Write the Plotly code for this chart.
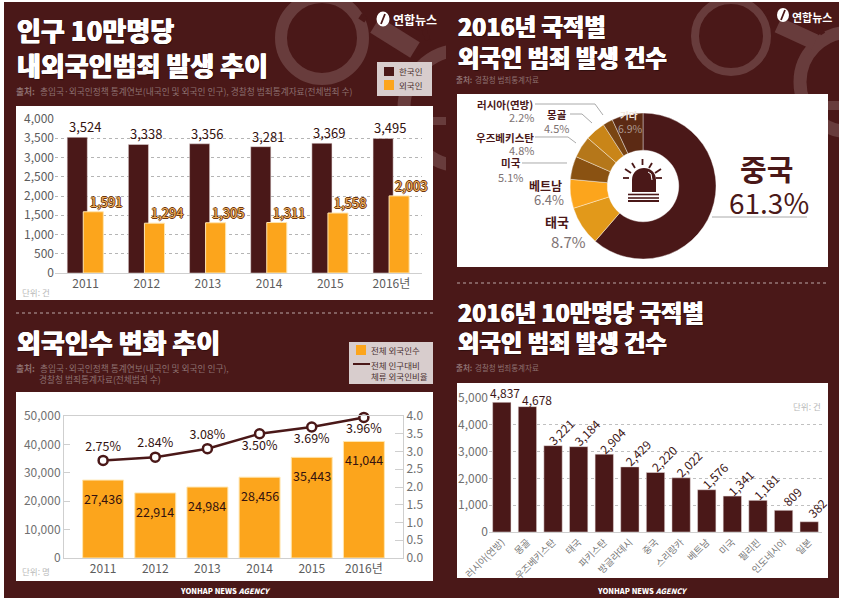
import plotly.graph_objects as go

# chart 1 - crime rate per 100k
years = ['2011', '2012', '2013', '2014', '2015', '2016년']
korean = [3524, 3338, 3356, 3281, 3369, 3495]
foreign = [1591, 1294, 1305, 1311, 1558, 2003]

# chart 2 - foreigners
foreign_pop = [27436, 22914, 24984, 28456, 35443, 41044]
foreign_pct = [2.75, 2.84, 3.08, 3.50, 3.69, 3.96]

# chart 3 - share by nationality
share_names = ['중국', '태국', '베트남', '미국', '우즈베키스탄', '몽골', '러시아(연방)', '기타']
share_vals = [61.3, 8.7, 6.4, 5.1, 4.8, 4.5, 2.2, 6.9]

# chart 4 - per 100k by nationality
nations = ['러시아(연방)', '몽골', '우즈베키스탄', '태국', '파키스탄', '방글라데시', '중국',
           '스리랑카', '베트남', '미국', '필리핀', '인도네시아', '일본']
nation_vals = [4837, 4678, 3221, 3184, 2904, 2429, 2220, 2022, 1576, 1341, 1181, 809, 382]

W, H = 842, 602
DARK = '#4a1818'
ORANGE = '#fca51c'
KR = 'Noto Sans CJK KR'
MUTED = '#8d7070'
CUFF = '#683c3c'


def px(x):
    return x / W


def py(y):
    return 1 - y / H


def dom_x(a, b):
    return [px(a), px(b)]


def dom_y(top, bottom):
    return [py(bottom), py(top)]


annos = []
shapes = []


def note(text, x, y, size, color, anchor='left', weight=400, **kw):
    # annotations carry about 2px of padding, take it back
    dx = {'left': -2, 'right': 2, 'center': 0}[anchor]
    annos.append(dict(text=text, x=px(x + dx), y=py(y), xref='paper', yref='paper', showarrow=False,
                      xanchor=anchor, yanchor='middle',
                      font=dict(family=KR, size=size, color=color, weight=weight, **kw)))


def title(text, x, y, size):
    note(text, x, y, size, 'white', weight=900, shadow='0.4px 0 white,-0.4px 0 white,1px 1px 1px rgba(0,0,0,0.4)')


def rect(x0, y0, x1, y1, color, line=None):
    shapes.append(dict(type='rect', xref='paper', yref='paper', x0=px(x0), x1=px(x1), y0=py(y0), y1=py(y1),
                       fillcolor=color, line=dict(width=0 if line is None else 1, color=line), layer='below'))


def path(points, color='#aaaaaa', width=1, layer='below'):
    d = 'M ' + ' L '.join(f'{px(a):.5f},{py(b):.5f}' for a, b in points)
    shapes.append(dict(type='path', xref='paper', yref='paper', path=d, line=dict(color=color, width=width),
                       layer=layer))


def ring(cx, cy, r, width):
    shapes.append(dict(type='circle', xref='paper', yref='paper', x0=px(cx - r), x1=px(cx + r),
                       y0=py(cy + r), y1=py(cy - r), line=dict(color=CUFF, width=width),
                       fillcolor='rgba(0,0,0,0)', layer='below'))


# background panel, left half first
rect(4, 2, 446, 598, DARK)

# handcuff decoration behind the titles
ring(322, 38, 41, 12)
ring(462, 108, 58, 13)
path([(375, 25), (415, 50)], CUFF, 18)
path([(360, 16), (366, 20)], DARK, 6)
path([(424, 30), (428, 40)], DARK, 5)
rect(433, 117, 446, 125, CUFF)

# right half hides whatever the left cuff pushes over
rect(446, 2, 839, 598, DARK)
ring(731, 36, 36, 8)
ring(850, 82, 50, 13)
path([(778, 25), (815, 42)], CUFF, 16)
path([(765, 14), (771, 11)], DARK, 6)
path([(818, 26), (823, 34)], DARK, 5)
rect(828, 101, 839, 110, CUFF)
rect(839, 0, 842, 602, 'white')
rect(0, 0, 842, 2, 'white')

# white cards
rect(16, 106, 433, 300, 'white')
rect(16, 392, 433, 581, 'white')
rect(457, 94, 828, 267, 'white')
rect(457, 383, 828, 578, 'white')

# dotted separators
path([(16, 313), (433, 313)], '#b9a5a5', 1.2)
shapes[-1]['line']['dash'] = 'dot'
path([(457, 283), (828, 283)], '#b9a5a5', 1.2)
shapes[-1]['line']['dash'] = 'dot'

fig = go.Figure()

# ---- chart 1 ----
fig.add_trace(go.Bar(x=years, y=korean, width=0.328, offset=-0.30, marker=dict(color=DARK, line=dict(color='#e8dcdc', width=0.5)),
                     xaxis='x', yaxis='y', showlegend=False))
fig.add_trace(go.Bar(x=years, y=foreign, width=0.328, offset=-0.038, marker=dict(color=ORANGE, line=dict(color='#ffe6b0', width=1)),
                     xaxis='x', yaxis='y', showlegend=False))
outline = '#6b3612'
halo = f'-1px 0 {outline},1px 0 {outline},0 -1px {outline},0 1px {outline}'
# category axes take the position number in annotations, not a year-like string
for i, (k, f) in enumerate(zip(korean, foreign)):
    annos.append(dict(text=f'{k:,}', x=i, y=k, xref='x', yref='y', showarrow=False, xshift=-1, yshift=-1, yanchor='bottom',
                      font=dict(family=KR, size=13, color='#33120f')))
    annos.append(dict(text=f'{f:,}', x=i, y=f, xref='x', yref='y', showarrow=False, xshift=20, yshift=-1, yanchor='bottom',
                      font=dict(family=KR, size=13, color='#f2b25a', shadow=halo)))

# ---- chart 2 ----
fig.add_trace(go.Bar(x=years, y=foreign_pop, width=0.785, marker=dict(color=ORANGE, line=dict(color='#ffe6b0', width=1)),
                     xaxis='x2', yaxis='y2', showlegend=False))
fig.add_trace(go.Scatter(x=years, y=foreign_pct, mode='lines+markers+text',
                         text=[f'{v:.2f}%' for v in foreign_pct],
                         textposition=['top center', 'top center', 'top center', 'bottom center', 'bottom center', 'bottom center'],
                         textfont=dict(family=KR, size=12.5, color='#33120f'),
                         line=dict(color=DARK, width=2.5),
                         marker=dict(size=9, color='white', line=dict(color=DARK, width=2.5)),
                         xaxis='x2', yaxis='y3', showlegend=False, cliponaxis=False))
for i, v in enumerate(foreign_pop):
    annos.append(dict(text=f'{v:,}', x=i, y=v, xref='x2', yref='y2', showarrow=False, yshift=-7, yanchor='top',
                      font=dict(family=KR, size=12.5, color='#33120f')))

# ---- chart 3 ----
fig.add_trace(go.Pie(labels=share_names, values=share_vals, sort=False, direction='clockwise', rotation=0, hole=0.49,
                     textinfo='none', showlegend=False,
                     marker=dict(colors=[DARK, '#e2991a', ORANGE, '#8a5212', '#b5771a', '#c98518', '#7a4512', '#5c2a14'],
                                 line=dict(color='#ffffff', width=0.4)),
                     domain=dict(x=dom_x(570, 716), y=dom_y(113, 259))))

share_pos = [
    (766, 168, 'center', 769, 202, 29, 28),
    (557, 222, 'center', 568, 241, 13, 15),
    (545, 185, 'center', 549, 200, 12, 13),
    (511, 163, 'center', 510, 177, 10.5, 11),
    (534, 137, 'right', 534, 150, 10.5, 11),
    (557, 114, 'center', 556, 128, 10.5, 11),
    (533, 104, 'right', 534, 117, 10.5, 11),
    (629, 115, 'center', 630, 128, 9.5, 10.5),
]
for i, (name, val) in enumerate(zip(share_names, share_vals)):
    lx, ly, anc, vx, vy, s1, s2 = share_pos[i]
    inside = name == '기타'
    note(name, lx, ly, s1, '#f3e8e0' if inside else DARK, anc, 700)
    note(f'{val}%', vx, vy, s2, '#ad9a92' if inside else (DARK if i == 0 else '#7d7272'), anc)

path([(535, 104), (595, 104), (603, 115)])
path([(570, 114), (582, 114), (592, 123)])
path([(535, 137), (568, 137), (576, 143)])
path([(522, 163), (567, 163)])
path([(712, 217), (807, 217)])

# siren icon in the donut hole
dome = 'M {},{} L {},{} C {},{} {},{} {},{} L {},{} Z'.format(
    px(632), py(192), px(632), py(180), px(632), py(164), px(656), py(164), px(656), py(180), px(656), py(192))
shapes.append(dict(type='path', xref='paper', yref='paper', path=dome, fillcolor=DARK, line=dict(width=0), layer='above'))
path([(648, 172), (651, 174), (652, 180)], 'white', 1, 'above')
for y_, w_ in [(194.5, 1.6), (198, 1.6), (201, 2)]:
    path([(628, y_), (659, y_)], DARK, w_, 'above')
for a, b in [((642.5, 159), (642.5, 165)), ((632, 163), (635, 168)), ((652, 163), (649, 168)),
             ((625, 169), (631, 173)), ((661, 169), (655, 173)), ((623, 178), (629, 178)), ((656, 178), (662, 178))]:
    path([a, b], DARK, 1.8, 'above')

# ---- chart 4 ----
fig.add_trace(go.Bar(x=nations, y=nation_vals, width=0.715, marker=dict(color=DARK, line=dict(color='#e8dcdc', width=0.5)),
                     xaxis='x4', yaxis='y4', showlegend=False))
flat_shift = {0: (3, 10), 1: (10, 7)}   # the first two labels sit flat, the rest lean
for i, v in enumerate(nation_vals):
    flat = i in flat_shift
    xs, ys = flat_shift.get(i, (8, 14))
    annos.append(dict(text=f'{v:,}', x=i, y=v, xref='x4', yref='y4', showarrow=False,
                      textangle=0 if flat else -45, xshift=xs, yshift=ys,
                      yanchor='middle', xanchor='center',
                      font=dict(family=KR, size=12, color='#3c1616')))

# ---- titles and notes ----
title('인구 10만명당', 17, 29, 26)
title('내외국인범죄 발생 추이', 17, 65, 26)
title('외국인수 변화 추이', 17, 342, 26)
title('2016년 국적별', 458, 26, 23.3)
title('외국인 범죄 발생 건수', 458, 57, 23.3)
title('2016년 10만명당 국적별', 458, 312, 23.3)
title('외국인 범죄 발생 건수', 458, 342, 23.3)

note('출처:', 16, 91, 8.7, MUTED, weight=700)
note('총입국·외국인정책 통계연보(내국인 및 외국인 인구), 경찰청 범죄통계자료(전체범죄 수)', 40, 91, 8.7, MUTED)
note('출처:', 16, 368, 8.7, MUTED, weight=700)
note('총입국·외국인정책 통계연보(내국인 및 외국인 인구),', 40, 368, 8.7, MUTED)
note('경찰청 범죄통계자료(전체범죄 수)', 39, 379, 8.7, MUTED)
note('출처:', 456, 80, 7.5, MUTED, weight=700)
note('경찰청 범죄통계자료', 475, 80, 7.5, MUTED)
note('출처:', 456, 367, 7.5, MUTED, weight=700)
note('경찰청 범죄통계자료', 475, 367, 7.5, MUTED)

note('단위: 건', 22, 292, 8.5, '#b8b8b8')
note('단위: 명', 22, 571, 8.5, '#b8b8b8')
note('단위: 건', 821, 406, 8.5, '#b8b8b8', 'right')

note('연합뉴스', 393, 19, 12, 'white', weight=700)
note('연합뉴스', 792, 17, 11, 'white', weight=700)
for cx, cy, r in [(383, 19, 6.5), (783, 15, 6)]:
    shapes.append(dict(type='circle', xref='paper', yref='paper', x0=px(cx - r), x1=px(cx + r), y0=py(cy + r + 1),
                       y1=py(cy - r - 1), fillcolor='white', line=dict(width=0), layer='above'))
    path([(cx + 2, cy - 5), (cx - 2, cy + 5)], DARK, 1.8, 'above')

note('YONHAP NEWS <i>AGENCY</i>', 225, 590, 7.5, 'white', 'center', 800)
note('YONHAP NEWS <i>AGENCY</i>', 642, 590, 7.5, 'white', 'center', 800)

# hand-made legends, the real one cannot sit in two places
rect(377, 62, 432, 96, '#d8cdcd')
rect(384, 67, 394, 76, DARK)
rect(384, 80, 394, 90, ORANGE)
note('한국인', 399, 71, 8.5, '#4a3030')
note('외국인', 399, 85, 8.5, '#4a3030')
rect(349, 342, 433, 384, '#d8cdcd')
rect(356, 345, 366, 355, ORANGE)
path([(353, 364), (370, 364)], DARK, 2)
note('전체 외국인수', 371, 350, 8.5, '#4a3030')
note('전체 인구대비', 371, 365, 8.5, '#4a3030')
note('체류 외국인비율', 371, 376, 8.5, '#4a3030')

tick1 = dict(family=KR, size=12, color='#5c5c5c')
tick2 = dict(family=KR, size=12, color='#707070')
line_c = '#cfcfcf'

fig.update_layout(
    template='none',
    width=W, height=H, margin=dict(l=0, r=0, t=0, b=0, pad=0), autosize=False,
    paper_bgcolor='white', plot_bgcolor='rgba(0,0,0,0)', barmode='overlay',
    annotations=annos, shapes=shapes,
    xaxis=dict(domain=dom_x(55, 422), anchor='y', type='category', range=[-0.5, 5.5], tickfont=tick1, showline=True,
               linecolor=line_c, ticks='', showgrid=False, automargin=False),
    yaxis=dict(domain=dom_y(119, 273), anchor='x', range=[0, 4000], dtick=500, tickformat=',', tickfont=tick1,
               gridcolor='#b5b5b5', griddash='dot', zeroline=False, ticks='', automargin=False),
    xaxis2=dict(domain=dom_x(64, 403), anchor='y2', type='category', range=[-0.75, 5.75], tickfont=tick1, showline=True,
                linecolor=line_c, mirror=True, ticks='', showgrid=False, automargin=False),
    yaxis2=dict(domain=dom_y(416, 558), anchor='x2', range=[0, 50000], dtick=10000, tickformat=',', tickfont=tick2,
                showgrid=False, zeroline=False, showline=True, linecolor=line_c, ticks='inside', ticklen=6,
                tickcolor=line_c, automargin=False),
    yaxis3=dict(domain=dom_y(416, 558), anchor='x2', overlaying='y2', side='right', range=[0, 4], dtick=0.5,
                tickformat='.1f', tickfont=tick2, showgrid=False, zeroline=False, showline=True, linecolor=line_c,
                ticks='inside', ticklen=8, tickcolor=line_c, automargin=False),
    xaxis4=dict(domain=dom_x(489, 822), anchor='y4', type='category', range=[-0.5, 12.5], tickangle=-45,
                tickfont=dict(family=KR, size=9.5, color='#777777'), showline=True, linecolor=line_c, ticks='',
                showgrid=False, automargin=False),
    yaxis4=dict(domain=dom_y(398, 532), anchor='x4', range=[0, 5000], dtick=1000, tickformat=',', tickfont=tick2,
                gridcolor='#c0c0c0', griddash='dot', zeroline=False, ticks='', automargin=False),
)

fig.write_html('out.html', config=dict(displayModeBar=False),
               post_script="document.body.style.margin='0';document.body.style.overflow='hidden';")
